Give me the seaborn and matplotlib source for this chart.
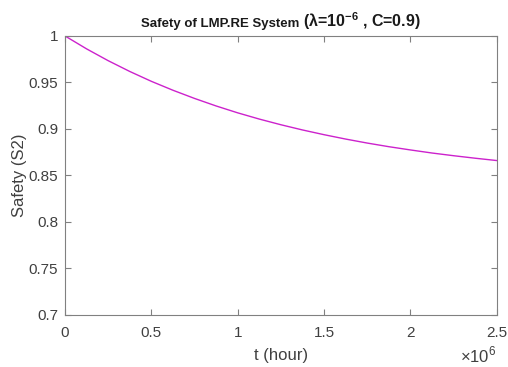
import numpy as np
import pandas as pd
import matplotlib
matplotlib.use('Agg')
import matplotlib.pyplot as plt
import seaborn as sns

# values
t_hours = [0, 0.125e6, 0.25e6, 0.375e6, 0.5e6, 0.625e6, 0.75e6, 0.875e6, 1.0e6,
           1.125e6, 1.25e6, 1.375e6, 1.5e6, 1.625e6, 1.75e6, 1.875e6, 2.0e6,
           2.125e6, 2.25e6, 2.375e6, 2.5e6]
safety_s2 = [1.0000, 0.9861, 0.9734, 0.9618, 0.9512, 0.9416, 0.9328, 0.9247, 0.9173,
             0.9106, 0.9045, 0.8989, 0.8938, 0.8891, 0.8848, 0.8809, 0.8774,
             0.8741, 0.8712, 0.8685, 0.8660]
x_ticks = [0, 0.5e6, 1.0e6, 1.5e6, 2.0e6, 2.5e6]
x_labels = ['0', '0.5', '1', '1.5', '2', '2.5']
y_ticks = [0.7, 0.75, 0.8, 0.85, 0.9, 0.95, 1.0]
y_labels = ['0.7', '0.75', '0.8', '0.85', '0.9', '0.95', '1']

sns.set_style('white')
plt.rcParams['font.family'] = ['Liberation Sans', 'DejaVu Sans']
plt.rcParams['mathtext.fontset'] = 'custom'
plt.rcParams['mathtext.rm'] = 'Liberation Sans'
plt.rcParams['mathtext.bf'] = 'Liberation Sans:bold'

df = pd.DataFrame({'t': t_hours, 'S2': safety_s2})

fig = plt.figure(figsize=(5.08, 3.67), dpi=100)
ax = fig.add_axes([0.128, 0.142, 0.850, 0.760])
sns.lineplot(data=df, x='t', y='S2', ax=ax, color='#cc22cc', linewidth=1.0)

ax.set_xlim(0, 2.5e6)
ax.set_ylim(0.7, 1.0)
ax.set_xticks(x_ticks)
ax.set_xticklabels(x_labels)
ax.set_yticks(y_ticks)
ax.set_yticklabels(y_labels)

for s in ax.spines.values():
    s.set_color('#808080')
    s.set_linewidth(0.8)
ax.tick_params(direction='in', length=4, width=0.8, color='#808080',
               labelsize=11, labelcolor='#404040', top=True, right=True,
               bottom=True, left=True)
ax.tick_params(axis='x', pad=8)
ax.tick_params(axis='y', pad=5)

ax.set_xlabel('t (hour)', fontsize=12, color='#404040', labelpad=6)
ax.set_ylabel('Safety (S2)', fontsize=12, color='#404040', labelpad=1)

# exponent label under the x axis, MATLAB style
fig.text(0.978, 1 - 362 / 367, r'$\times10^{6}$', fontsize=12, color='#404040',
         ha='right', va='baseline')

# title in two parts (the bracket part is larger in the reference)
fig.text(0.596, 1 - 27 / 367, 'Safety of LMP.RE System ', fontsize=9.5,
         fontweight='bold', color='#1a1a1a', ha='right', va='baseline')
fig.text(0.596, 1 - 27 / 367, r'($\mathbf{\lambda}$=10$^{\mathbf{-6}}$ , C=0.9)',
         fontsize=11.5, fontweight='bold', color='#1a1a1a', ha='left', va='baseline')

fig.savefig('out.png', dpi=100)
